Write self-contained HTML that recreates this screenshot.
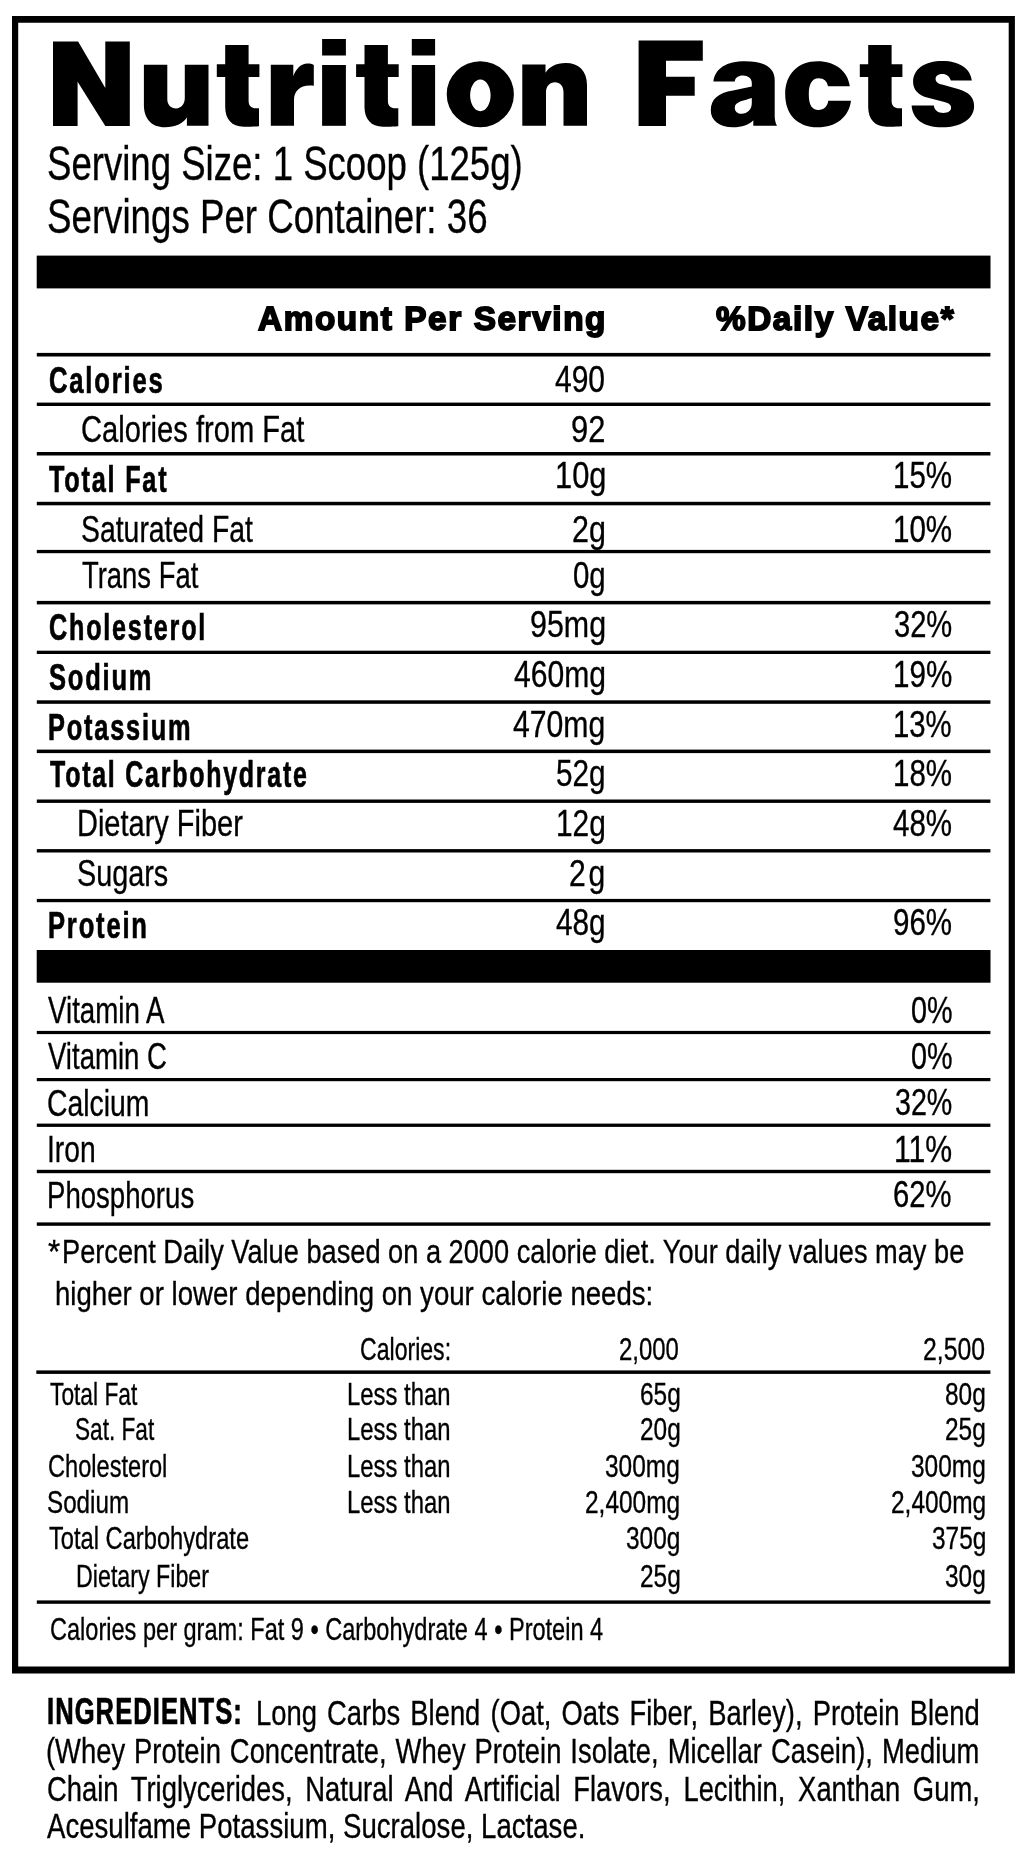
<!DOCTYPE html><html><head><meta charset="utf-8"><title>Nutrition Facts</title><style>
html,body{margin:0;padding:0;background:#fff}
body{width:1028px;height:1860px;position:relative;overflow:hidden;font-family:"Liberation Sans",sans-serif;color:#000}
.t{position:absolute;white-space:nowrap;line-height:1;transform-origin:0 0}
#wrap{position:absolute;left:0;top:0;width:1028px;height:1860px;will-change:transform}
.ing{position:absolute;height:0;line-height:0;white-space:nowrap;font-size:34.666px;transform:scaleX(0.7900);transform-origin:0 0;-webkit-text-stroke:0.35px #000}
</style></head><body><div id="wrap"><svg width="1028" height="1860" viewBox="0 0 1028 1860" style="position:absolute;left:0;top:0" fill="#000"><path d="M53.0 41.6 H78.1 L105.3 88.0 V41.6 H129.8 V126.0 H105.3 L77.6 81.7 V126.0 H53.0 Z"/><path d="M638.6 40.6 H702.8 V60.8 H666.0 V76.8 H694.7 V95.8 H666.0 V126.0 H638.6 Z"/><path transform="translate(-139.30 0)" d="M 364.5 45.0 H 387.9 V 64.2 H 398.7 V 77.1 H 387.9 V 101 C 387.9 106 391 108.3 395 108.3 H 398.3 V 126.2 C 396 126.5 390 126.7 383 126.7 C 371 126.7 364.5 119 364.5 107 V 77.1 H 356.1 V 64.2 H 364.5 Z"/><path transform="translate(0.00 0)" d="M 364.5 45.0 H 387.9 V 64.2 H 398.7 V 77.1 H 387.9 V 101 C 387.9 106 391 108.3 395 108.3 H 398.3 V 126.2 C 396 126.5 390 126.7 383 126.7 C 371 126.7 364.5 119 364.5 107 V 77.1 H 356.1 V 64.2 H 364.5 Z"/><path transform="translate(503.70 0)" d="M 364.5 45.0 H 387.9 V 64.2 H 398.7 V 77.1 H 387.9 V 101 C 387.9 106 391 108.3 395 108.3 H 398.3 V 126.2 C 396 126.5 390 126.7 383 126.7 C 371 126.7 364.5 119 364.5 107 V 77.1 H 356.1 V 64.2 H 364.5 Z"/><path d="M143.9 64.7 H167.3 V99 C167.3 105 171 108.4 176 108.4 C181 108.4 184.8 104 184.8 98 V64.7 H208.5 V125.8 H186.9 V117.5 C183 123.5 175 127.3 165 127.3 C151 127.3 143.9 118 143.9 105 Z"/><path d="M522.3 64.4 H545.5 V72.7 C549 67 556 63 565.6 63 C579 63 587 71 587 85 V125.8 H563.5 V92 C563.5 86 560 82.2 555 82.2 C550 82.2 546 86 546 92 V125.8 H522.3 Z"/><path d="M270.8 64.7 H293.3 V76.2 C296 69 301 63.6 307.5 63.6 C310 63.6 312 64 313.8 65 V85.7 C312.5 85.6 311 85.5 309.5 85.5 C300 85.5 294 91 294 100 V125.7 H270.8 Z"/><path fill-rule="evenodd" d="M713.4 81.5 C715 68 727 61.2 745 61.2 C765 61.2 774.7 68 774.7 80 V116 C774.7 120 775.5 123 777 125.8 H753.3 V120.3 C749 125 742 127.3 733 127.3 C719 127.3 710.8 120 710.8 110.5 C710.8 99 718 93 733 90.5 L751.8 86.5 V83 C751.8 78.5 748 75.6 743 75.6 C738 75.6 735 78 734.8 81.5 Z M751.8 98.1 C745 100.5 734.8 101.5 734.8 107.5 C734.8 111.5 737.5 113.8 741.5 113.8 C747.5 113.8 751.8 109.5 751.8 103 Z"/><path d="M849.8 86.3 H828 C827 81 824 78.2 818.5 78.2 C812 78.2 808.8 84 808.8 94.5 C808.8 105 812 110 818.5 110 C824 110 827.5 106 828.3 100.7 H851 C849 117 836 127.3 817.7 127.3 C797 127.3 785.2 114 785.2 94.25 C785.2 74 798 61.2 817.7 61.2 C835 61.2 848 71 849.8 86.3 Z"/><path d="M971.8 80.4 H950.8 C949.5 76.5 946.5 74.1 942.6 74.1 C938.5 74.1 935.6 76 935.6 79 C935.6 82 938 83.5 942 84.6 L958 89 C968.5 92 974.1 97 974.1 106 C974.1 119 961 127.3 942.3 127.3 C923 127.3 912.5 119 911.6 105.5 H933.8 C934.5 110.5 938 112.9 943.4 112.9 C948 112.9 951.1 111 951.1 107.7 C951.1 104.5 948.5 103 943.4 101.8 L928 97.8 C917.5 95 913.1 89 913.1 81.9 C913.1 69 925 61 942.3 61 C960 61 970.5 69 971.8 80.4 Z"/><path fill-rule="evenodd" d="M446.7 94.25 A33.6 33.05 0 1 0 513.9 94.25 A33.6 33.05 0 1 0 446.7 94.25 Z M470.1 95.35 A10.25 15.85 0 1 0 490.6 95.35 A10.25 15.85 0 1 0 470.1 95.35 Z"/><rect x="36.70" y="255.60" width="953.80" height="32.80"/><rect x="36.80" y="352.90" width="953.60" height="3.60"/><rect x="36.80" y="402.60" width="953.60" height="3.40"/><rect x="36.80" y="452.00" width="953.60" height="3.50"/><rect x="36.80" y="501.80" width="953.60" height="3.50"/><rect x="36.80" y="549.90" width="953.60" height="3.30"/><rect x="36.80" y="600.90" width="953.60" height="3.50"/><rect x="36.80" y="650.70" width="953.60" height="3.30"/><rect x="36.80" y="700.30" width="953.60" height="3.50"/><rect x="36.80" y="749.60" width="953.60" height="3.50"/><rect x="36.80" y="799.50" width="953.60" height="3.40"/><rect x="36.80" y="849.10" width="953.60" height="3.40"/><rect x="36.80" y="898.90" width="953.60" height="3.30"/><rect x="36.70" y="950.00" width="953.80" height="32.70"/><rect x="36.80" y="1030.90" width="953.60" height="3.20"/><rect x="36.80" y="1078.00" width="953.60" height="3.20"/><rect x="36.80" y="1123.60" width="953.60" height="3.30"/><rect x="36.80" y="1169.80" width="953.60" height="3.40"/><rect x="36.80" y="1222.40" width="953.60" height="3.40"/><rect x="36.30" y="1370.40" width="954.10" height="3.50"/><rect x="36.80" y="1600.40" width="953.60" height="3.40"/><rect x="322.10" y="39.00" width="23.80" height="16.50"/><rect x="322.10" y="65.00" width="23.80" height="60.80"/><rect x="411.80" y="39.00" width="23.30" height="16.50"/><rect x="411.80" y="65.00" width="23.30" height="60.80"/><path fill-rule="evenodd" d="M12.00 16.00H1014.90V1673.50H12.00Z M18.20 22.80V1666.50H1008.70V22.80Z"/></svg>
<div class="t" style="left:47.47px;top:140.02px;font-size:47.748px;transform:scaleX(0.7662);font-weight:400;-webkit-text-stroke:0.35px #000;">Serving Size: 1 Scoop (125g)</div>
<div class="t" style="left:47.46px;top:192.82px;font-size:47.748px;transform:scaleX(0.7687);font-weight:400;-webkit-text-stroke:0.35px #000;">Servings Per Container: 36</div>
<div class="t" style="left:257.50px;top:301.70px;font-size:33.431px;transform:scaleX(0.9971);font-weight:700;-webkit-text-stroke:1.80px #000;letter-spacing:1.600px;">Amount Per Serving</div>
<div class="t" style="left:715.80px;top:301.70px;font-size:33.431px;transform:scaleX(0.9967);font-weight:700;-webkit-text-stroke:1.80px #000;letter-spacing:1.600px;">%Daily Value*</div>
<div class="t" style="left:48.50px;top:362.65px;font-size:36.774px;transform:scaleX(0.6963);font-weight:700;-webkit-text-stroke:0.70px #000;letter-spacing:2.600px;">Calories</div>
<div class="t" style="left:81.44px;top:410.82px;font-size:37.283px;transform:scaleX(0.7817);font-weight:400;-webkit-text-stroke:0.35px #000;">Calories from Fat</div>
<div class="t" style="left:49.20px;top:461.65px;font-size:36.774px;transform:scaleX(0.6865);font-weight:700;-webkit-text-stroke:0.70px #000;letter-spacing:2.600px;">Total Fat</div>
<div class="t" style="left:80.78px;top:510.53px;font-size:37.283px;transform:scaleX(0.7616);font-weight:400;-webkit-text-stroke:0.35px #000;">Saturated Fat</div>
<div class="t" style="left:81.76px;top:556.83px;font-size:37.283px;transform:scaleX(0.7357);font-weight:400;-webkit-text-stroke:0.35px #000;">Trans Fat</div>
<div class="t" style="left:48.62px;top:610.35px;font-size:36.774px;transform:scaleX(0.6849);font-weight:700;-webkit-text-stroke:0.70px #000;letter-spacing:2.600px;">Cholesterol</div>
<div class="t" style="left:48.61px;top:659.65px;font-size:36.774px;transform:scaleX(0.6938);font-weight:700;-webkit-text-stroke:0.70px #000;letter-spacing:2.600px;">Sodium</div>
<div class="t" style="left:47.92px;top:709.65px;font-size:36.774px;transform:scaleX(0.6901);font-weight:700;-webkit-text-stroke:0.70px #000;letter-spacing:2.600px;">Potassium</div>
<div class="t" style="left:49.50px;top:756.65px;font-size:36.774px;transform:scaleX(0.6786);font-weight:700;-webkit-text-stroke:0.70px #000;letter-spacing:2.600px;">Total Carbohydrate</div>
<div class="t" style="left:76.67px;top:804.83px;font-size:37.283px;transform:scaleX(0.7776);font-weight:400;-webkit-text-stroke:0.35px #000;">Dietary Fiber</div>
<div class="t" style="left:76.55px;top:854.53px;font-size:37.283px;transform:scaleX(0.7730);font-weight:400;-webkit-text-stroke:0.35px #000;">Sugars</div>
<div class="t" style="left:47.81px;top:907.65px;font-size:36.774px;transform:scaleX(0.6957);font-weight:700;-webkit-text-stroke:0.70px #000;letter-spacing:2.600px;">Protein</div>
<div class="t" style="left:555.00px;top:360.62px;font-size:37.283px;transform:scaleX(0.8050);font-weight:400;-webkit-text-stroke:0.35px #000;">490</div>
<div class="t" style="left:570.94px;top:410.82px;font-size:37.283px;transform:scaleX(0.8289);font-weight:400;-webkit-text-stroke:0.35px #000;">92</div>
<div class="t" style="left:554.52px;top:457.12px;font-size:37.283px;transform:scaleX(0.8263);font-weight:400;-webkit-text-stroke:0.35px #000;">10g</div>
<div class="t" style="left:572.27px;top:510.62px;font-size:37.283px;transform:scaleX(0.8162);font-weight:400;-webkit-text-stroke:0.35px #000;">2g</div>
<div class="t" style="left:573.31px;top:557.12px;font-size:37.283px;transform:scaleX(0.7895);font-weight:400;-webkit-text-stroke:0.35px #000;">0g</div>
<div class="t" style="left:529.87px;top:605.83px;font-size:37.283px;transform:scaleX(0.8157);font-weight:400;-webkit-text-stroke:0.35px #000;">95mg</div>
<div class="t" style="left:513.79px;top:656.03px;font-size:37.283px;transform:scaleX(0.8063);font-weight:400;-webkit-text-stroke:0.35px #000;">460mg</div>
<div class="t" style="left:513.39px;top:705.83px;font-size:37.283px;transform:scaleX(0.8099);font-weight:400;-webkit-text-stroke:0.35px #000;">470mg</div>
<div class="t" style="left:556.20px;top:754.83px;font-size:37.283px;transform:scaleX(0.7983);font-weight:400;-webkit-text-stroke:0.35px #000;">52g</div>
<div class="t" style="left:555.99px;top:804.83px;font-size:37.283px;transform:scaleX(0.8018);font-weight:400;-webkit-text-stroke:0.35px #000;">12g</div>
<div class="t" style="left:569.39px;top:854.83px;font-size:37.283px;transform:scaleX(0.8073);font-weight:400;-webkit-text-stroke:0.35px #000;letter-spacing:3.400px;">2g</div>
<div class="t" style="left:556.20px;top:903.83px;font-size:37.283px;transform:scaleX(0.7983);font-weight:400;-webkit-text-stroke:0.35px #000;">48g</div>
<div class="t" style="left:892.72px;top:457.32px;font-size:37.283px;transform:scaleX(0.7930);font-weight:400;-webkit-text-stroke:0.35px #000;">15%</div>
<div class="t" style="left:892.72px;top:510.83px;font-size:37.283px;transform:scaleX(0.7930);font-weight:400;-webkit-text-stroke:0.35px #000;">10%</div>
<div class="t" style="left:893.62px;top:605.83px;font-size:37.283px;transform:scaleX(0.7808);font-weight:400;-webkit-text-stroke:0.35px #000;">32%</div>
<div class="t" style="left:892.62px;top:656.03px;font-size:37.283px;transform:scaleX(0.7944);font-weight:400;-webkit-text-stroke:0.35px #000;">19%</div>
<div class="t" style="left:893.24px;top:705.83px;font-size:37.283px;transform:scaleX(0.7859);font-weight:400;-webkit-text-stroke:0.35px #000;">13%</div>
<div class="t" style="left:892.79px;top:754.83px;font-size:37.283px;transform:scaleX(0.7920);font-weight:400;-webkit-text-stroke:0.35px #000;">18%</div>
<div class="t" style="left:892.79px;top:804.83px;font-size:37.283px;transform:scaleX(0.7920);font-weight:400;-webkit-text-stroke:0.35px #000;">48%</div>
<div class="t" style="left:892.79px;top:903.83px;font-size:37.283px;transform:scaleX(0.7920);font-weight:400;-webkit-text-stroke:0.35px #000;">96%</div>
<div class="t" style="left:47.80px;top:991.93px;font-size:37.283px;transform:scaleX(0.7433);font-weight:400;-webkit-text-stroke:0.35px #000;">Vitamin A</div>
<div class="t" style="left:47.80px;top:1038.03px;font-size:37.283px;transform:scaleX(0.7388);font-weight:400;-webkit-text-stroke:0.35px #000;">Vitamin C</div>
<div class="t" style="left:47.28px;top:1084.53px;font-size:37.283px;transform:scaleX(0.7608);font-weight:400;-webkit-text-stroke:0.35px #000;">Calcium</div>
<div class="t" style="left:46.83px;top:1130.62px;font-size:37.283px;transform:scaleX(0.7576);font-weight:400;-webkit-text-stroke:0.35px #000;">Iron</div>
<div class="t" style="left:46.88px;top:1176.62px;font-size:37.283px;transform:scaleX(0.7400);font-weight:400;-webkit-text-stroke:0.35px #000;">Phosphorus</div>
<div class="t" style="left:910.53px;top:992.03px;font-size:37.283px;transform:scaleX(0.7712);font-weight:400;-webkit-text-stroke:0.35px #000;">0%</div>
<div class="t" style="left:910.53px;top:1037.92px;font-size:37.283px;transform:scaleX(0.7712);font-weight:400;-webkit-text-stroke:0.35px #000;">0%</div>
<div class="t" style="left:894.53px;top:1084.03px;font-size:37.283px;transform:scaleX(0.7685);font-weight:400;-webkit-text-stroke:0.35px #000;">32%</div>
<div class="t" style="left:893.87px;top:1130.73px;font-size:37.283px;transform:scaleX(0.8103);font-weight:400;-webkit-text-stroke:0.35px #000;">11%</div>
<div class="t" style="left:893.43px;top:1176.42px;font-size:37.283px;transform:scaleX(0.7833);font-weight:400;-webkit-text-stroke:0.35px #000;">62%</div>
<div class="t" style="left:48.36px;top:1235.33px;font-size:33.503px;transform:scaleX(0.9364);font-weight:400;-webkit-text-stroke:0.35px #000;">*</div>
<div class="t" style="left:61.68px;top:1235.33px;font-size:33.503px;transform:scaleX(0.8120);font-weight:400;-webkit-text-stroke:0.35px #000;">Percent Daily Value based on a 2000 calorie diet. Your daily values may be</div>
<div class="t" style="left:55.45px;top:1276.83px;font-size:33.503px;transform:scaleX(0.8237);font-weight:400;-webkit-text-stroke:0.35px #000;">higher or lower depending on your calorie needs:</div>
<div class="t" style="left:359.95px;top:1334.33px;font-size:30.596px;transform:scaleX(0.7547);font-weight:400;-webkit-text-stroke:0.35px #000;">Calories:</div>
<div class="t" style="left:619.12px;top:1333.83px;font-size:30.596px;transform:scaleX(0.7827);font-weight:400;-webkit-text-stroke:0.35px #000;">2,000</div>
<div class="t" style="left:922.84px;top:1333.83px;font-size:30.596px;transform:scaleX(0.8100);font-weight:400;-webkit-text-stroke:0.35px #000;">2,500</div>
<div class="t" style="left:49.60px;top:1378.83px;font-size:30.596px;transform:scaleX(0.7444);font-weight:400;-webkit-text-stroke:0.35px #000;">Total Fat</div>
<div class="t" style="left:347.14px;top:1378.83px;font-size:30.596px;transform:scaleX(0.7806);font-weight:400;-webkit-text-stroke:0.35px #000;">Less than</div>
<div class="t" style="left:639.50px;top:1378.83px;font-size:30.596px;transform:scaleX(0.8000);font-weight:400;-webkit-text-stroke:0.35px #000;">65g</div>
<div class="t" style="left:945.20px;top:1378.83px;font-size:30.596px;transform:scaleX(0.8000);font-weight:400;-webkit-text-stroke:0.35px #000;">80g</div>
<div class="t" style="left:75.32px;top:1414.12px;font-size:30.596px;transform:scaleX(0.7400);font-weight:400;-webkit-text-stroke:0.35px #000;">Sat. Fat</div>
<div class="t" style="left:347.14px;top:1414.12px;font-size:30.596px;transform:scaleX(0.7806);font-weight:400;-webkit-text-stroke:0.35px #000;">Less than</div>
<div class="t" style="left:639.50px;top:1414.12px;font-size:30.596px;transform:scaleX(0.8000);font-weight:400;-webkit-text-stroke:0.35px #000;">20g</div>
<div class="t" style="left:945.20px;top:1414.12px;font-size:30.596px;transform:scaleX(0.8000);font-weight:400;-webkit-text-stroke:0.35px #000;">25g</div>
<div class="t" style="left:48.23px;top:1451.12px;font-size:30.596px;transform:scaleX(0.7717);font-weight:400;-webkit-text-stroke:0.35px #000;">Cholesterol</div>
<div class="t" style="left:347.14px;top:1451.12px;font-size:30.596px;transform:scaleX(0.7806);font-weight:400;-webkit-text-stroke:0.35px #000;">Less than</div>
<div class="t" style="left:605.10px;top:1451.12px;font-size:30.596px;transform:scaleX(0.8000);font-weight:400;-webkit-text-stroke:0.35px #000;">300mg</div>
<div class="t" style="left:910.80px;top:1451.12px;font-size:30.596px;transform:scaleX(0.8000);font-weight:400;-webkit-text-stroke:0.35px #000;">300mg</div>
<div class="t" style="left:47.42px;top:1486.83px;font-size:30.596px;transform:scaleX(0.7920);font-weight:400;-webkit-text-stroke:0.35px #000;">Sodium</div>
<div class="t" style="left:347.14px;top:1486.83px;font-size:30.596px;transform:scaleX(0.7806);font-weight:400;-webkit-text-stroke:0.35px #000;">Less than</div>
<div class="t" style="left:585.10px;top:1486.83px;font-size:30.596px;transform:scaleX(0.8000);font-weight:400;-webkit-text-stroke:0.35px #000;">2,400mg</div>
<div class="t" style="left:890.80px;top:1486.83px;font-size:30.596px;transform:scaleX(0.8000);font-weight:400;-webkit-text-stroke:0.35px #000;">2,400mg</div>
<div class="t" style="left:49.00px;top:1523.23px;font-size:30.596px;transform:scaleX(0.7743);font-weight:400;-webkit-text-stroke:0.35px #000;">Total Carbohydrate</div>
<div class="t" style="left:625.90px;top:1523.23px;font-size:30.596px;transform:scaleX(0.8000);font-weight:400;-webkit-text-stroke:0.35px #000;">300g</div>
<div class="t" style="left:931.60px;top:1523.23px;font-size:30.596px;transform:scaleX(0.8000);font-weight:400;-webkit-text-stroke:0.35px #000;">375g</div>
<div class="t" style="left:75.98px;top:1560.83px;font-size:30.596px;transform:scaleX(0.7601);font-weight:400;-webkit-text-stroke:0.35px #000;">Dietary Fiber</div>
<div class="t" style="left:639.50px;top:1560.83px;font-size:30.596px;transform:scaleX(0.8000);font-weight:400;-webkit-text-stroke:0.35px #000;">25g</div>
<div class="t" style="left:945.20px;top:1560.83px;font-size:30.596px;transform:scaleX(0.8000);font-weight:400;-webkit-text-stroke:0.35px #000;">30g</div>
<div class="t" style="left:50.24px;top:1614.92px;font-size:30.887px;transform:scaleX(0.7628);font-weight:400;-webkit-text-stroke:0.35px #000;">Calories per gram: Fat 9 • Carbohydrate 4 • Protein 4</div>
<div class="t" style="left:47.49px;top:1694.25px;font-size:36.338px;transform:scaleX(0.7037);font-weight:700;-webkit-text-stroke:0.70px #000;letter-spacing:1.500px;">INGREDIENTS:</div>
<div class="t" style="left:46.80px;top:1809.03px;font-size:34.666px;transform:scaleX(0.7963);font-weight:400;-webkit-text-stroke:0.35px #000;">Acesulfame Potassium, Sucralose, Lactase.</div>
<div class="ing" style="left:255.60px;top:1713.11px;width:916.08px;text-align:justify;text-align-last:justify;">Long Carbs Blend (Oat, Oats Fiber, Barley), Protein Blend</div>
<div class="ing" style="left:46.00px;top:1750.81px;width:1181.39px;text-align:justify;text-align-last:justify;">(Whey Protein Concentrate, Whey Protein Isolate, Micellar Casein), Medium</div>
<div class="ing" style="left:46.50px;top:1788.81px;width:1180.76px;text-align:justify;text-align-last:justify;">Chain Triglycerides, Natural And Artificial Flavors, Lecithin, Xanthan Gum,</div></div></body></html>
